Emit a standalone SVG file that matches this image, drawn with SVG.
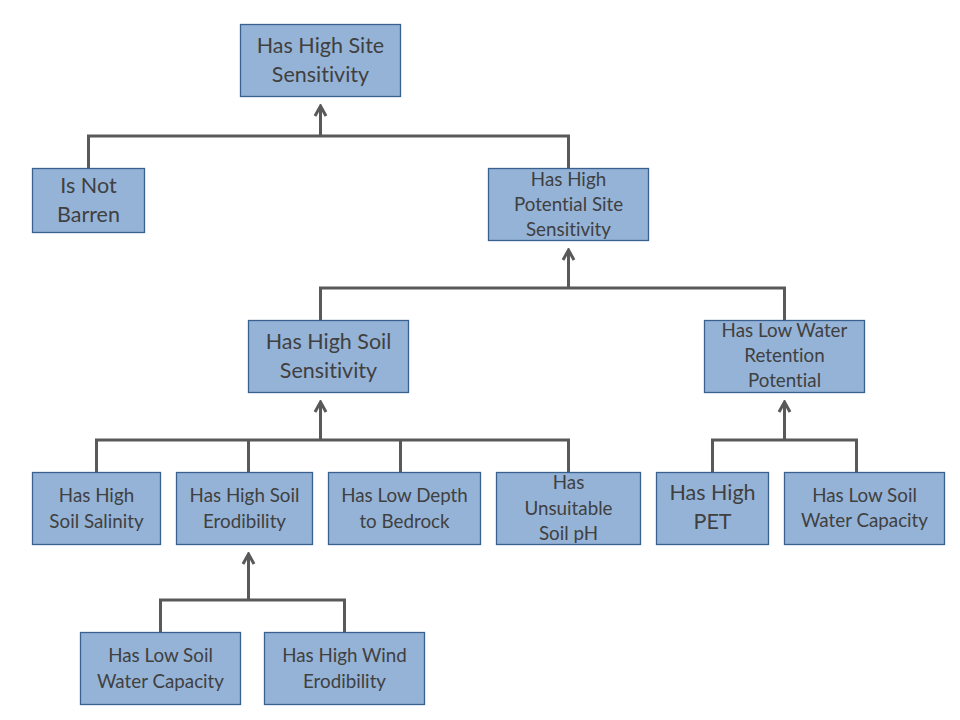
<svg xmlns="http://www.w3.org/2000/svg" width="960" height="720" viewBox="0 0 960 720">
<style>
.box{fill:#95B3D7;stroke:#3A6090;stroke-width:1.3}
.t{font-family:Lato,"Liberation Sans",sans-serif;fill:#404040;text-anchor:middle;font-variant-ligatures:none;font-feature-settings:"liga" 0}
.big{font-size:21.5px}
.sm{font-size:18.8px}
.c{fill:none;stroke:#595959;stroke-width:3;stroke-linejoin:miter;stroke-linecap:butt}
</style>
<defs>
<marker id="ah" markerUnits="userSpaceOnUse" viewBox="-12 -8 14 16" markerWidth="14" markerHeight="16" refX="0" refY="0" orient="auto">
<polyline points="-10,-5.5 0,0 -10,5.5" fill="none" stroke="#595959" stroke-width="3" stroke-linejoin="miter"/>
</marker>
</defs>
<rect width="960" height="720" fill="#ffffff"/>
<g id="connectors">
<path class="c" d="M88.5,168 V136 H568.5 V168"/>
<path class="c" d="M320.5,136 V106" marker-end="url(#ah)"/>
<path class="c" d="M320.5,320 V288 H784.5 V320"/>
<path class="c" d="M568.5,288 V250" marker-end="url(#ah)"/>
<path class="c" d="M96.5,472 V440 H568.5 V472"/>
<path class="c" d="M248.5,472 V440"/>
<path class="c" d="M400.5,472 V440"/>
<path class="c" d="M320.5,440 V402" marker-end="url(#ah)"/>
<path class="c" d="M712.5,472 V440 H856.5 V472"/>
<path class="c" d="M784.5,440 V402" marker-end="url(#ah)"/>
<path class="c" d="M160.5,632 V600 H344.5 V632"/>
<path class="c" d="M248.5,600 V554" marker-end="url(#ah)"/>
</g>
<g id="n_site">
<rect class="box" x="240.5" y="24.5" width="160" height="72"/>
<text class="t big" x="320.5" y="53">Has High Site</text>
<text class="t big" x="320.5" y="82">Sensitivity</text>
</g>
<g id="n_barren">
<rect class="box" x="32.5" y="168.5" width="112" height="64"/>
<text class="t big" x="88.5" y="193">Is Not</text>
<text class="t big" x="88.5" y="222">Barren</text>
</g>
<g id="n_potential">
<rect class="box" x="488.5" y="168.5" width="160" height="72"/>
<text class="t sm" x="568.5" y="186">Has High</text>
<text class="t sm" x="568.5" y="211">Potential Site</text>
<text class="t sm" x="568.5" y="236">Sensitivity</text>
</g>
<g id="n_soil">
<rect class="box" x="248.5" y="320.5" width="160" height="72"/>
<text class="t big" x="328.5" y="349">Has High Soil</text>
<text class="t big" x="328.5" y="378">Sensitivity</text>
</g>
<g id="n_water">
<rect class="box" x="704.5" y="320.5" width="160" height="72"/>
<text class="t sm" x="784.5" y="337">Has Low Water</text>
<text class="t sm" x="784.5" y="362">Retention</text>
<text class="t sm" x="784.5" y="387">Potential</text>
</g>
<g id="n_salinity">
<rect class="box" x="32.5" y="472.5" width="128" height="72"/>
<text class="t sm" x="96.5" y="502">Has High</text>
<text class="t sm" x="96.5" y="528">Soil Salinity</text>
</g>
<g id="n_erod">
<rect class="box" x="176.5" y="472.5" width="136" height="72"/>
<text class="t sm" x="244.5" y="502">Has High Soil</text>
<text class="t sm" x="244.5" y="528">Erodibility</text>
</g>
<g id="n_depth">
<rect class="box" x="328.5" y="472.5" width="152" height="72"/>
<text class="t sm" x="404.5" y="502">Has Low Depth</text>
<text class="t sm" x="404.5" y="528">to Bedrock</text>
</g>
<g id="n_ph">
<rect class="box" x="496.5" y="472.5" width="144" height="72"/>
<text class="t sm" x="568.5" y="489">Has</text>
<text class="t sm" x="568.5" y="515">Unsuitable</text>
<text class="t sm" x="568.5" y="540">Soil pH</text>
</g>
<g id="n_pet">
<rect class="box" x="656.5" y="472.5" width="112" height="72"/>
<text class="t big" x="712.5" y="500">Has High</text>
<text class="t big" x="712.5" y="529">PET</text>
</g>
<g id="n_swc2">
<rect class="box" x="784.5" y="472.5" width="160" height="72"/>
<text class="t sm" x="864.5" y="502">Has Low Soil</text>
<text class="t sm" x="864.5" y="527">Water Capacity</text>
</g>
<g id="n_swc1">
<rect class="box" x="80.5" y="632.5" width="160" height="72"/>
<text class="t sm" x="160.5" y="662">Has Low Soil</text>
<text class="t sm" x="160.5" y="688">Water Capacity</text>
</g>
<g id="n_wind">
<rect class="box" x="264.5" y="632.5" width="160" height="72"/>
<text class="t sm" x="344.5" y="662">Has High Wind</text>
<text class="t sm" x="344.5" y="688">Erodibility</text>
</g>
</svg>
